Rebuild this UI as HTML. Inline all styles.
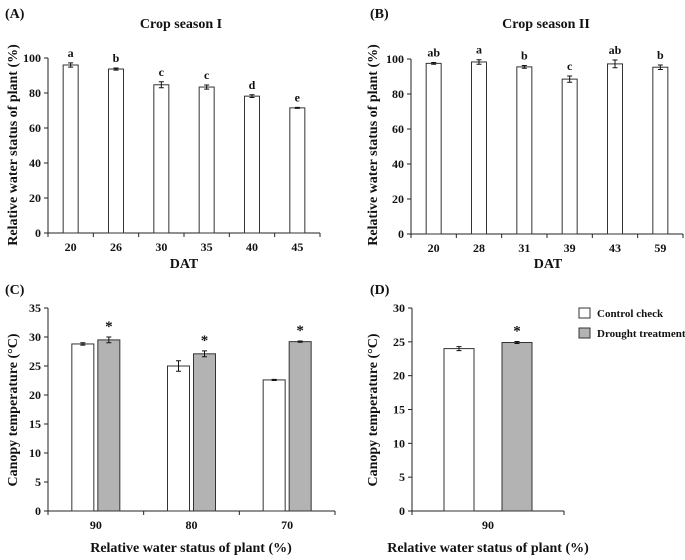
<!DOCTYPE html>
<html><head><meta charset="utf-8"><style>
html,body{margin:0;padding:0;background:#fff}
svg text{font-family:"Liberation Serif",serif;font-weight:bold;fill:#111}
</style></head><body>
<svg id="fig" width="685" height="555" xmlns="http://www.w3.org/2000/svg"></svg>
<script>
const catsA=['20','26','30','35','40','45'];
const valsA=[96,93.7,84.7,83.4,78.2,71.5];
const errA=[1.2,0.6,1.7,1.2,0.8,0.3];
const letA=['a','b','c','c','d','e'];
const catsB=['20','28','31','39','43','59'];
const valsB=[97.5,98.3,95.5,88.5,97.2,95.3];
const errB=[0.5,1.3,0.8,1.8,2.2,1.3];
const letB=['ab','a','b','c','ab','b'];
const catsC=['90','80','70'];
const ctrlC=[28.8,25,22.6];
const ctrlErrC=[0.2,0.9,0.1];
const drC=[29.5,27.1,29.2];
const drErrC=[0.5,0.5,0.1];
const catsD=['90'];
const ctrlD=[24];
const ctrlErrD=[0.3];
const drD=[24.9];
const drErrD=[0.15];
const ticksAB=[0,20,40,60,80,100];
const ticksC=[0,5,10,15,20,25,30,35];
const ticksD=[0,5,10,15,20,25,30];

const svg=document.getElementById('fig');
const NS='http://www.w3.org/2000/svg';
function mk(tag,attrs,name,parent){const e=document.createElementNS(NS,tag);for(const k in attrs)e.setAttribute(k,attrs[k]);


(parent||svg).appendChild(e);return e;}
function txt(x,y,s,size,name,anchor,rot){const t=mk('text',{x:x,y:y,'font-size':size,'text-anchor':anchor||'middle'},name);if(rot)t.setAttribute('transform','rotate(-90 '+x+' '+y+')');t.textContent=s;return t;}

function panel(o){
  const g=mk('g',{},o.id);
  const yS=v=>o.y0-(v-o.ymin)/(o.ymax-o.ymin)*(o.y0-o.y1);
  const bw=(o.x1-o.x0)/o.cats.length;
  const xS=i=>o.x0+bw*(i+0.5);
  mk('line',{x1:o.x0,y1:o.y1,x2:o.x0,y2:o.y0,stroke:'#222','stroke-width':1},'y-axis',g);
  mk('line',{x1:o.x0,y1:o.y0,x2:o.x1,y2:o.y0,stroke:'#222','stroke-width':1},'x-axis',g);
  o.ticks.forEach(t=>{const y=yS(t);
    mk('line',{x1:o.x0-4,y1:y,x2:o.x0,y2:y,stroke:'#222'},'y-tick',g);
    txt(o.x0-7,y+4,String(t),12,'y-tick-label','end');});
  for(let i=0;i<=o.cats.length;i++){const x=o.x0+bw*i;mk('line',{x1:x,y1:o.y0,x2:x,y2:o.y0+4,stroke:'#222'},'x-tick',g);}
  o.cats.forEach((c,i)=>txt(xS(i),o.y0+18,c,12,'x-tick-label'));
  o.series.forEach(s=>{
    s.vals.forEach((v,i)=>{
      const cx=xS(i)+s.off, y=yS(v);
      mk('rect',{x:cx-s.w/2,y:y,width:s.w,height:o.y0-y,fill:s.fill,stroke:'#333','stroke-width':1},s.name,g);
      const e=s.err[i], ya=yS(v+e), yb=yS(v-e);
      mk('path',{d:`M${cx},${ya}V${yb}M${cx-2.5},${ya}H${cx+2.5}M${cx-2.5},${yb}H${cx+2.5}`,stroke:'#111','stroke-width':1,fill:'none'},'error-bar',g);
      if(s.labels&&s.labels[i])txt(cx,ya-6,s.labels[i],s.lsize||12,'significance-label');
    });
  });
}
panel({id:'panel-a',x0:48,x1:320,y0:233,y1:58,ymin:0,ymax:100,ticks:ticksAB,cats:catsA,
  series:[{vals:valsA,err:errA,labels:letA,off:0,w:15,fill:'#fff',name:'bar'}]});
panel({id:'panel-b',x0:411,x1:683,y0:234,y1:59,ymin:0,ymax:100,ticks:ticksAB,cats:catsB,
  series:[{vals:valsB,err:errB,labels:letB,off:0,w:15,fill:'#fff',name:'bar'}]});
panel({id:'panel-c',x0:48,x1:335,y0:511,y1:308,ymin:0,ymax:35,ticks:ticksC,cats:catsC,
  series:[{vals:ctrlC,err:ctrlErrC,off:-13,w:22,fill:'#fff',name:'bar-control'},
          {vals:drC,err:drErrC,labels:['*','*','*'],lsize:15,off:13,w:22,fill:'#b3b3b3',name:'bar-drought'}]});
panel({id:'panel-d',x0:412,x1:564,y0:511,y1:308,ymin:0,ymax:30,ticks:ticksD,cats:catsD,
  series:[{vals:ctrlD,err:ctrlErrD,off:-29,w:30,fill:'#fff',name:'bar-control'},
          {vals:drD,err:drErrD,labels:['*'],lsize:15,off:29,w:30,fill:'#b3b3b3',name:'bar-drought'}]});

txt(5,18,'(A)',14,'panel-label-a','start');
txt(370,18,'(B)',14,'panel-label-b','start');
txt(5,294,'(C)',14,'panel-label-c','start');
txt(370,294,'(D)',14,'panel-label-d','start');
txt(181,28,'Crop season I',14,'chart-title-a');
txt(546,28,'Crop season II',14,'chart-title-b');
txt(17,145,'Relative water status of plant (%)',14,'y-axis-title-a','middle',true);
txt(377,145,'Relative water status of plant (%)',14,'y-axis-title-b','middle',true);
txt(184,268,'DAT',14,'x-axis-title-a');
txt(548,268,'DAT',14,'x-axis-title-b');
txt(17,410,'Canopy temperature (°C)',14,'y-axis-title-c','middle',true);
txt(377,410,'Canopy temperature (°C)',14,'y-axis-title-d','middle',true);
txt(191,552,'Relative water status of plant (%)',14,'x-axis-title-c');
txt(488,552,'Relative water status of plant (%)',14,'x-axis-title-d');
mk('rect',{x:579,y:308,width:11,height:10,fill:'#fff',stroke:'#333'},'legend-swatch-control');
txt(597,317,'Control check',11,'legend-entry-control','start');
mk('rect',{x:579,y:328,width:11,height:10,fill:'#b3b3b3',stroke:'#333'},'legend-swatch-drought');
txt(597,337,'Drought treatment',11,'legend-entry-drought','start');
</script>
</body></html>
